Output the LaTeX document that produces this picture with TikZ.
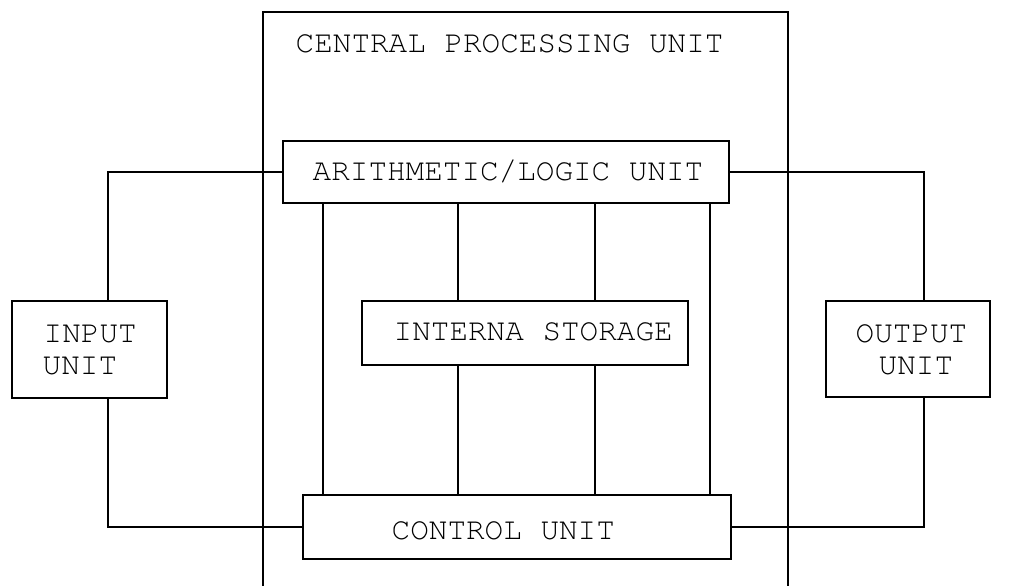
\documentclass[tikz,border=0pt]{standalone}
\usepackage{fontspec}
\newfontfamily\typer{texgyrecursor-regular.otf}
\begin{document}
\begin{tikzpicture}[x=1pt,y=-1pt,line width=1.4pt,
  unitbox/.style={draw,rectangle,inner sep=0pt},
  caption/.style={font=\typer\fontsize{31}{32}\selectfont,inner sep=0pt,anchor=base west}]
\useasboundingbox (0,0) rectangle (1028,586);

% central processing unit frame (open at the bottom)
\draw (263,586) -- (263,12) -- (788,12) -- (788,586);
\node[caption] (cputitle) at (295,53) {CENTRAL PROCESSING UNIT};

% unit boxes
\node[unitbox,minimum width=446pt,minimum height=62pt] (alu) at (506,172) {};
\node[unitbox,minimum width=326pt,minimum height=64pt] (sto) at (525,333) {};
\node[unitbox,minimum width=428pt,minimum height=64pt] (ctl) at (517,527) {};
\node[unitbox,minimum width=155pt,minimum height=97pt] (inp) at (89.5,349.5) {};
\node[unitbox,minimum width=164pt,minimum height=96pt] (out) at (908,349) {};

% box captions
\node[caption] (alutext) at (312,180) {ARITHMETIC/LOGIC UNIT};
\node[caption] (stotext) at (393,340) {INTERNA STORAGE};
\node[caption] (ctltext) at (391,539) {CONTROL UNIT};
\node[caption] (inptext1) at (43,342) {INPUT};
\node[caption] (inptext2) at (42,374) {UNIT};
\node[caption] (outtext1) at (855,342) {OUTPUT};
\node[caption] (outtext2) at (878,374) {UNIT};

% bus positions
\coordinate (xin) at (108,0);
\coordinate (xout) at (924,0);
\coordinate (xa) at (323,0);
\coordinate (xb) at (458,0);
\coordinate (xc) at (595,0);
\coordinate (xd) at (710,0);

% input and output connections
\draw (inp.north -| xin) |- (alu.west);
\draw (inp.south -| xin) |- (ctl.west);
\draw (alu.east) -| (out.north -| xout);
\draw (ctl.east) -| (out.south -| xout);

% internal buses
\draw (alu.south -| xa) -- (ctl.north -| xa);
\draw (alu.south -| xd) -- (ctl.north -| xd);
\draw (alu.south -| xb) -- (sto.north -| xb);
\draw (alu.south -| xc) -- (sto.north -| xc);
\draw (sto.south -| xb) -- (ctl.north -| xb);
\draw (sto.south -| xc) -- (ctl.north -| xc);
\end{tikzpicture}
\end{document}
